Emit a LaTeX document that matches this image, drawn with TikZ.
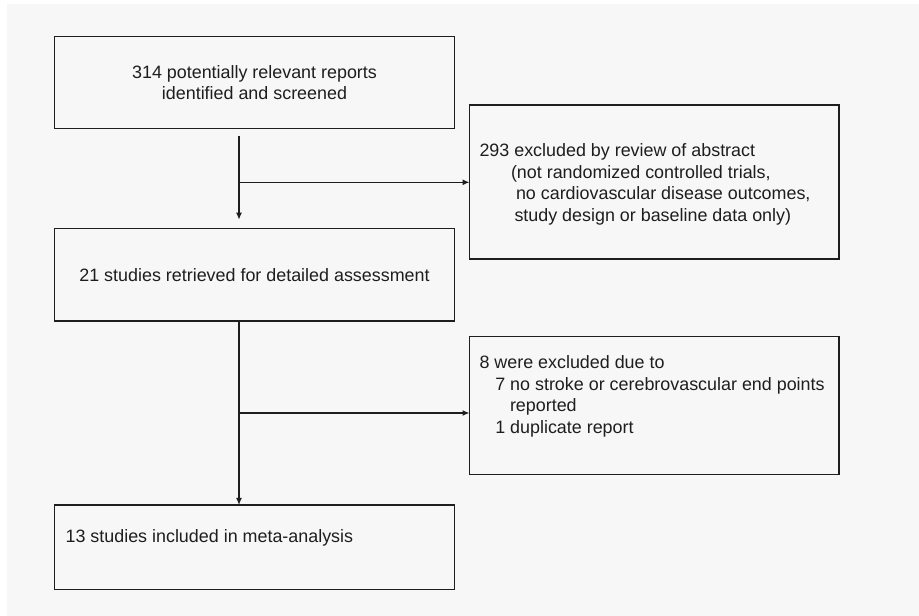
\documentclass[tikz,border=0pt]{standalone}
\usepackage{fontspec}
\setmainfont{Liberation Sans}
\usetikzlibrary{arrows.meta,calc}
\definecolor{bgc}{HTML}{F7F7F7}
\definecolor{ink}{HTML}{1E1E1E}
\begin{document}
\begin{tikzpicture}[x=1pt,y=-1pt,
  box/.style={draw=ink,line width=1.3pt,rectangle,inner sep=0pt,outer sep=0pt,fill=bgc},
  txt/.style={inner sep=0pt,outer sep=0pt,text=ink,font=\fontsize{17.9}{21.6}\selectfont},
  arr/.style={draw=ink,line width=1.3pt,-{Latex[length=7pt,width=6pt]}},
  ln/.style={draw=ink,line width=1.3pt}]
\useasboundingbox (0,0) rectangle (919,616);
\fill[white] (0,0) rectangle (919,616);
\fill[bgc] (7,4) rectangle (919,616);
% boxes
\node[box,minimum width=400,minimum height=92,txt,align=center] (b1) at (254.5,82.5)
  {314 potentially relevant reports\\identified and screened};
\node[box,minimum width=400,minimum height=92.3,txt] (b2) at (254.5,274.85)
  {21 studies retrieved for detailed assessment};
\node[box,minimum width=400,minimum height=84.5] (b5) at (254.5,547.2) {};
\node[box,minimum width=369.5,minimum height=154] (b3) at (654.25,182) {};
\node[box,minimum width=369.5,minimum height=138] (b4) at (654.25,405.5) {};
% texts in side boxes
\node[txt,anchor=north west,align=left] (t3) at (479.5,143.8)
  {293 excluded by review of abstract\\
   \hspace*{31.5pt}(not randomized controlled trials,\\
   \hspace*{36.5pt}no cardiovascular disease outcomes,\\
   \hspace*{35pt}study design or baseline data only)};
\node[txt,anchor=north west,align=left] (t4) at (479.5,355.5)
  {8 were excluded due to\\
   \hspace*{15.8pt}7 no stroke or cerebrovascular end points\\
   \hspace*{30.5pt}reported\\
   \hspace*{15.8pt}1 duplicate report};
\node[txt,anchor=base west] (t5) at (65.6,542.5) {13 studies included in meta-analysis};
% connectors
\coordinate (v) at (239,0);
\coordinate (j1) at (239,182.3);
\coordinate (j2) at (239,413);
\draw[arr] ($(b1.south -| v)+(0,7)$) -- ($(b2.north -| v)+(0,-9)$);
\draw[arr] (j1) -- (j1 -| b3.west);
\draw[arr] (b2.south -| v) -- (b5.north -| v);
\draw[arr] (j2) -- (j2 -| b4.west);
\end{tikzpicture}
\end{document}
